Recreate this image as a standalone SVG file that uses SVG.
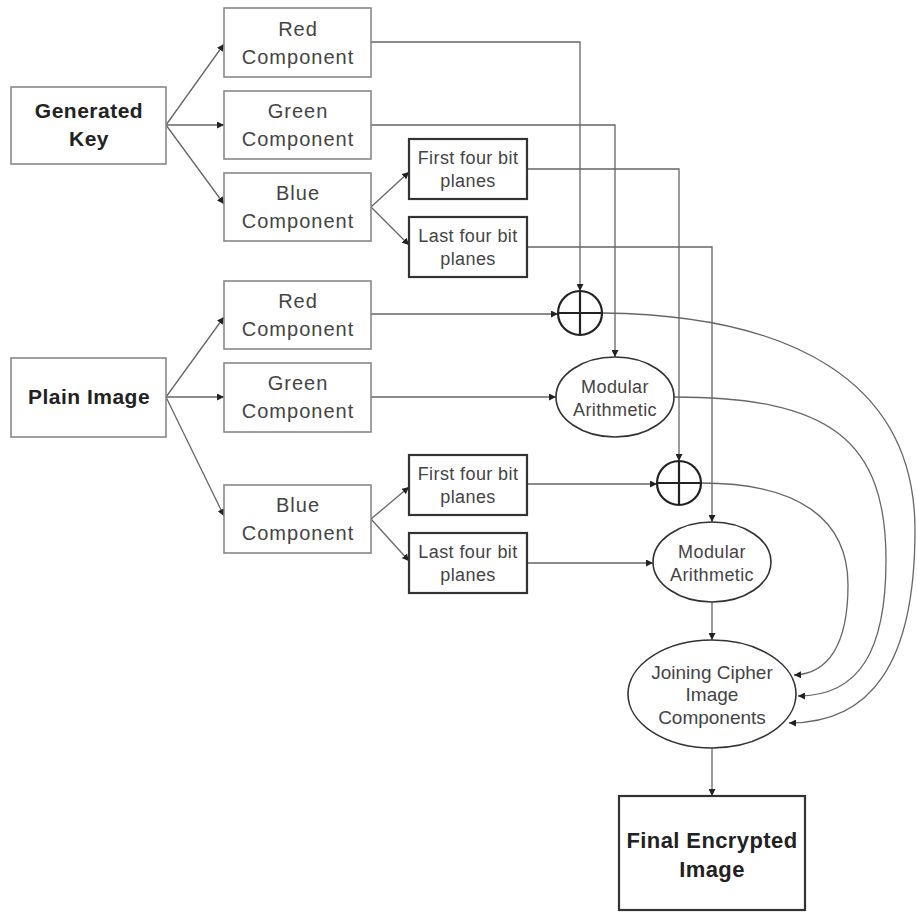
<svg xmlns="http://www.w3.org/2000/svg" width="917" height="912" viewBox="0 0 917 912">
<defs>
<marker id="ah" viewBox="0 0 10 10" refX="10" refY="5" markerWidth="7" markerHeight="7" markerUnits="userSpaceOnUse" orient="auto">
<path d="M0,0 L10,5 L0,10 z" fill="#222"/>
</marker>
<style>
.box{fill:#fff;stroke:#888;stroke-width:1.6}
.bbox{fill:#fff;stroke:#333;stroke-width:2.2}
.ell{fill:#fff;stroke:#333;stroke-width:1.6}
.xor{fill:#fff;stroke:#222;stroke-width:2.2}
.t{font-family:"Liberation Sans",Arial,sans-serif;font-size:20px;fill:#444;text-anchor:middle;letter-spacing:1px}
.ts{font-family:"Liberation Sans",Arial,sans-serif;font-size:18px;fill:#444;text-anchor:middle;letter-spacing:0.4px}
.tj{font-family:"Liberation Sans",Arial,sans-serif;font-size:19px;fill:#444;text-anchor:middle}
.tb{font-family:"Liberation Sans",Arial,sans-serif;font-size:21px;font-weight:bold;fill:#222;text-anchor:middle;letter-spacing:0.5px}
.c{fill:none;stroke:#666;stroke-width:1.3}
.cv{fill:none;stroke:#666;stroke-width:1.3;marker-end:url(#ah)}
</style>
</defs>

<g id="connectors">
<path class="cv" d="M166,125 L224,44"/>
<path class="cv" d="M166,125 L224,125"/>
<path class="cv" d="M166,125 L224,204"/>
<path class="cv" d="M371,207 L409,172"/>
<path class="cv" d="M371,207 L409,245"/>
<path class="cv" d="M166,397 L224,317"/>
<path class="cv" d="M166,397 L224,397"/>
<path class="cv" d="M166,397 L224,516"/>
<path class="cv" d="M371,519 L409,487"/>
<path class="cv" d="M371,519 L409,561"/>
<path class="cv" d="M371,42 L580,42 L580,291"/>
<path class="cv" d="M371,125 L615,125 L615,357"/>
<path class="cv" d="M527,169 L679,169 L679,461"/>
<path class="cv" d="M527,247 L712,247 L712,522"/>
<path class="cv" d="M371,314 L558,314"/>
<path class="cv" d="M371,397 L556,397"/>
<path class="cv" d="M527,484 L657,484"/>
<path class="cv" d="M527,563 L653,563"/>
<path class="cv" d="M712,602 L712,640"/>
<path class="cv" d="M712,748 L712,796"/>
<path class="cv" d="M701,483 C800,483 848,520 848,585 C848,645 828,674 794,675"/>
<path class="cv" d="M674,397 C830,397 886,440 886,560 C886,650 860,696 798,696"/>
<path class="cv" d="M602,313 C790,315 915,380 915,530 C915,665 870,723 789,723"/>
</g>

<g id="generated-key">
<rect class="box" x="11" y="87" width="155" height="77"/>
<text class="tb" x="89" y="118">Generated</text>
<text class="tb" x="89" y="146">Key</text>
</g>
<g id="key-red">
<rect class="box" x="224" y="8" width="147" height="69"/>
<text class="t" x="298" y="36">Red</text>
<text class="t" x="298" y="64">Component</text>
</g>
<g id="key-green">
<rect class="box" x="224" y="91" width="147" height="68"/>
<text class="t" x="298" y="118">Green</text>
<text class="t" x="298" y="146">Component</text>
</g>
<g id="key-blue">
<rect class="box" x="224" y="173" width="147" height="68"/>
<text class="t" x="298" y="200">Blue</text>
<text class="t" x="298" y="228">Component</text>
</g>
<g id="key-first">
<rect class="bbox" x="409" y="139" width="118" height="60"/>
<text class="ts" x="468" y="164">First four bit</text>
<text class="ts" x="468" y="187">planes</text>
</g>
<g id="key-last">
<rect class="bbox" x="409" y="217" width="118" height="60"/>
<text class="ts" x="468" y="242">Last four bit</text>
<text class="ts" x="468" y="265">planes</text>
</g>

<g id="plain-image">
<rect class="box" x="11" y="358" width="155" height="79"/>
<text class="tb" x="89" y="404">Plain Image</text>
</g>
<g id="plain-red">
<rect class="box" x="224" y="281" width="147" height="68"/>
<text class="t" x="298" y="308">Red</text>
<text class="t" x="298" y="336">Component</text>
</g>
<g id="plain-green">
<rect class="box" x="224" y="363" width="147" height="69"/>
<text class="t" x="298" y="390">Green</text>
<text class="t" x="298" y="418">Component</text>
</g>
<g id="plain-blue">
<rect class="box" x="224" y="485" width="147" height="68"/>
<text class="t" x="298" y="512">Blue</text>
<text class="t" x="298" y="540">Component</text>
</g>
<g id="plain-first">
<rect class="bbox" x="409" y="455" width="118" height="60"/>
<text class="ts" x="468" y="480">First four bit</text>
<text class="ts" x="468" y="503">planes</text>
</g>
<g id="plain-last">
<rect class="bbox" x="409" y="533" width="118" height="60"/>
<text class="ts" x="468" y="558">Last four bit</text>
<text class="ts" x="468" y="581">planes</text>
</g>

<g id="xor1">
<circle class="xor" cx="580" cy="313" r="22"/>
<path class="xor" d="M558,313 H602 M580,291 V335"/>
</g>
<g id="mod1">
<ellipse class="ell" cx="615" cy="397" rx="59" ry="40"/>
<text class="ts" x="615" y="393">Modular</text>
<text class="ts" x="615" y="416">Arithmetic</text>
</g>
<g id="xor2">
<circle class="xor" cx="679" cy="483" r="22"/>
<path class="xor" d="M657,483 H701 M679,461 V505"/>
</g>
<g id="mod2">
<ellipse class="ell" cx="712" cy="562" rx="59" ry="40"/>
<text class="ts" x="712" y="558">Modular</text>
<text class="ts" x="712" y="581">Arithmetic</text>
</g>
<g id="joining">
<ellipse class="ell" cx="712" cy="694" rx="84" ry="54"/>
<text class="tj" x="712" y="679">Joining Cipher</text>
<text class="tj" x="712" y="701">Image</text>
<text class="tj" x="712" y="724">Components</text>
</g>
<g id="final">
<rect class="bbox" x="619" y="796" width="186" height="114"/>
<text class="tb" x="712" y="848" style="font-size:22px;letter-spacing:0.4px">Final Encrypted</text>
<text class="tb" x="712" y="877" style="font-size:22px;letter-spacing:0.4px">Image</text>
</g>
</svg>
